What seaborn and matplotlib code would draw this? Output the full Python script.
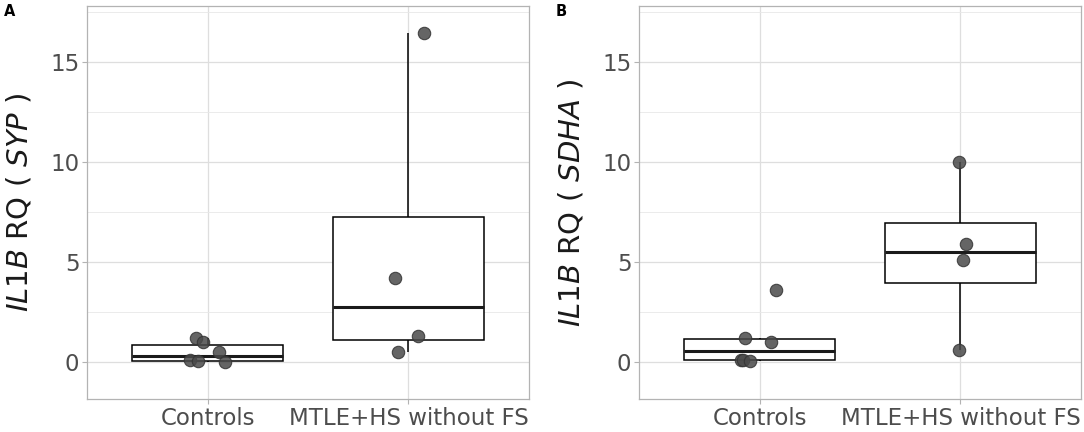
import matplotlib
matplotlib.use("Agg")
import matplotlib.pyplot as plt
from matplotlib.ticker import MultipleLocator
import seaborn as sns
import pandas as pd

# Groups on the x axis
groups = ["Controls", "MTLE+HS without FS"]

# Panel A: IL1B RQ normalised to SYP
a_controls = [1.2, 1.0, 0.48, 0.08, 0.03, 0.0]
a_mtle = [16.45, 4.2, 1.32, 0.52]
# Panel B: IL1B RQ normalised to SDHA
b_controls = [1.2, 0.99, 3.6, 0.08, 0.08, 0.03]
b_mtle = [10.0, 5.92, 5.08, 0.62]

# horizontal jitter of the points
a_jit_controls = [-0.058, -0.025, 0.058, -0.088, -0.046, 0.086]
a_jit_mtle = [0.075, -0.066, 0.046, -0.053]
b_jit_controls = [-0.07, 0.058, 0.083, -0.091, -0.08, -0.046]
b_jit_mtle = [-0.008, 0.027, 0.013, -0.008]


def make_df(ctrl, mtle, jit_c, jit_m):
    rows = []
    for v, j in zip(ctrl, jit_c):
        rows.append({"Group": groups[0], "RQ": v, "pos": 0 + j})
    for v, j in zip(mtle, jit_m):
        rows.append({"Group": groups[1], "RQ": v, "pos": 1 + j})
    return pd.DataFrame(rows)


panels = [
    ("A", "SYP", make_df(a_controls, a_mtle, a_jit_controls, a_jit_mtle)),
    ("B", "SDHA", make_df(b_controls, b_mtle, b_jit_controls, b_jit_mtle)),
]

sns.set_theme(style="white")
plt.rcParams["font.family"] = ["DejaVu Sans"]

fig = plt.figure(figsize=(10.84, 4.32), dpi=100)
W, H = 1084, 432
axes_px = [(87, 529), (639, 1081)]
top_px, bot_px = 6, 399

for (letter, ref, df), (x0, x1) in zip(panels, axes_px):
    ax = fig.add_axes([x0 / W, 1 - bot_px / H, (x1 - x0) / W, (bot_px - top_px) / H])

    sns.boxplot(data=df, x="Group", y="RQ", order=groups, ax=ax,
                width=0.75, whis=1.5, showfliers=False, showcaps=False,
                color="white", linecolor="black", linewidth=1.1,
                medianprops={"linewidth": 2.2, "color": "#1a1a1a"},
                zorder=2)
    sns.scatterplot(data=df, x="pos", y="RQ", ax=ax, s=80,
                    color="#4a4a4a", edgecolor="#333333", linewidth=0.8,
                    alpha=0.85, zorder=3, legend=False)

    ax.set_xlim(-0.6, 1.6)
    ax.set_ylim(-1.85, 17.8)
    ax.set_xticks([0, 1])
    ax.set_xticklabels(groups)
    ax.yaxis.set_major_locator(MultipleLocator(5))
    ax.yaxis.set_minor_locator(MultipleLocator(2.5))

    ax.grid(True, which="major", color="#DEDEDE", linewidth=0.9, zorder=0)
    ax.grid(True, which="minor", axis="y", color="#E8E8E8", linewidth=0.6, zorder=0)
    ax.set_axisbelow(True)

    for sp in ax.spines.values():
        sp.set_color("#B3B3B3")
        sp.set_linewidth(0.9)

    ax.tick_params(axis="both", which="major", length=3.5, width=0.8,
                   color="#B3B3B3", labelsize=16.5, labelcolor="#4D4D4D", pad=2,
                   left=True, bottom=True)
    ax.tick_params(axis="y", which="minor", length=0)

    ax.set_xlabel("")
    ax.set_ylabel(r"$\mathit{IL1B}$ RQ ( $\mathit{" + ref + r"}$ )",
                  fontsize=21, color="#1a1a1a")
    ax.yaxis.set_label_coords(-0.122, 0.5)

    fig.text((x0 - 83) / W, 1 - 12 / H, letter, fontsize=10.5,
             fontweight="bold", va="center", ha="left", color="black")

fig.savefig("out.png", dpi=100)
